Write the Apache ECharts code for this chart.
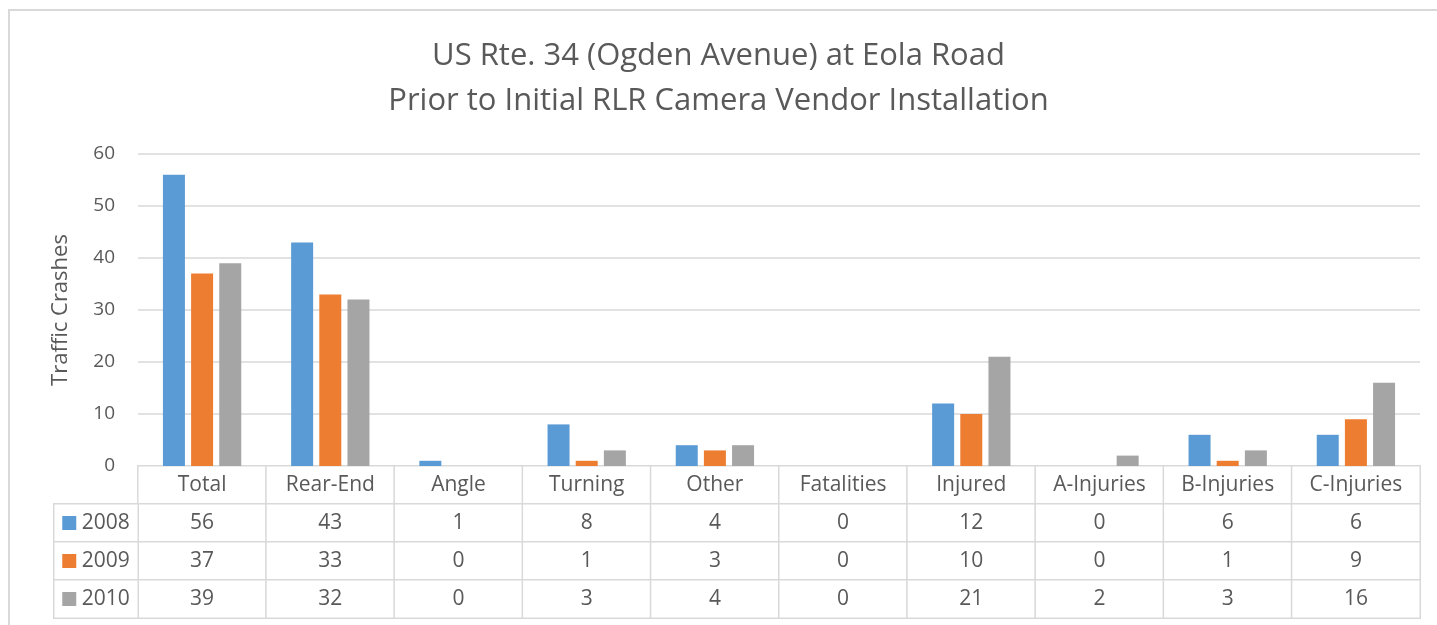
<!DOCTYPE html>
<html>
<head>
<meta charset="utf-8">
<script src="https://cdn.jsdelivr.net/npm/echarts@6/dist/echarts.min.js"></script>
<style>
  html, body { margin: 0; padding: 0; background: #fff; }
  #chart { width: 1437px; height: 625px; }
</style>
</head>
<body>
<div id="chart"></div>
<script>
const categories = ['Total', 'Rear-End', 'Angle', 'Turning', 'Other', 'Fatalities', 'Injured', 'A-Injuries', 'B-Injuries', 'C-Injuries']
const years = ['2008', '2009', '2010']
const crashes2008 = [56, 43, 1, 8, 4, 0, 12, 0, 6, 6]
const crashes2009 = [37, 33, 0, 1, 3, 0, 10, 0, 1, 9]
const crashes2010 = [39, 32, 0, 3, 4, 0, 21, 2, 3, 16]
const yTicks = [0, 10, 20, 30, 40, 50, 60]

const colors = ['#5b9bd5', '#ed7d31', '#a5a5a5']
const rows = [crashes2008, crashes2009, crashes2010]
const font = '"Open Sans", sans-serif'
const textColor = '#595959'
const lineColor = '#d9d9d9'

// table cells: header row (0) + one row per year
const tableCells = []
categories.forEach((c, i) => {
  tableCells.push([i, 0, 0])
  rows.forEach((r, k) => tableCells.push([i, k + 1, r[i]]))
})
const legendCells = years.map((y, k) => [0, k, k])

const chart = echarts.init(document.getElementById('chart'))
chart.setOption({
  animation: false,
  color: colors,
  textStyle: { fontFamily: font },
  title: {
    text: 'US Rte. 34 (Ogden Avenue) at Eola Road\nPrior to Initial RLR Camera Vendor Installation',
    left: 'center',
    top: 29,
    textStyle: { fontFamily: font, fontSize: 31, fontWeight: 'normal', color: textColor, lineHeight: 45 },
  },
  graphic: [{
    type: 'rect',
    shape: { x: 9, y: 10, width: 1500, height: 700 },
    style: { fill: 'none', stroke: lineColor, lineWidth: 2 },
    silent: true,
  }],
  visualMap: [
    { show: false, seriesIndex: [3, 4], min: 0, max: 100, inRange: { color: ['#fff', '#fff'] } },
  ],
  grid: [
    { left: 138, right: 17, top: 154, height: 312 },
    { left: 138, right: 17, top: 466, height: 152 },
    { left: 54, width: 84, top: 504, height: 114 },
  ],
  xAxis: [
    { gridIndex: 0, type: 'category', data: categories, axisLine: { show: false }, axisTick: { show: false }, axisLabel: { show: false } },
    { gridIndex: 1, type: 'category', data: categories, show: false },
    { gridIndex: 2, type: 'category', data: [''], show: false },
  ],
  yAxis: [
    {
      gridIndex: 0,
      type: 'value',
      min: yTicks[0],
      max: yTicks[yTicks.length - 1],
      interval: 10,
      name: 'Traffic Crashes',
      nameLocation: 'middle',
      nameGap: 66,
      nameTextStyle: { fontFamily: font, fontSize: 22, color: textColor },
      axisLine: { show: false },
      axisTick: { show: false },
      axisLabel: { fontFamily: font, fontSize: 19, color: textColor, margin: 23 },
      splitLine: { lineStyle: { color: lineColor, width: 1.5 } },
    },
    { gridIndex: 1, type: 'category', data: ['', ...years], inverse: true, show: false },
    { gridIndex: 2, type: 'category', data: years, inverse: true, show: false },
  ],
  series: [
    ...rows.map((r, k) => ({
      name: years[k],
      type: 'bar',
      xAxisIndex: 0,
      yAxisIndex: 0,
      data: r,
      barWidth: 22,
      barGap: '28%',
    })),
    {
      type: 'heatmap',
      xAxisIndex: 1,
      yAxisIndex: 1,
      data: tableCells,
      itemStyle: { borderColor: lineColor, borderWidth: 1.5 },
      label: {
        show: true,
        fontFamily: font,
        fontSize: 21,
        color: textColor,
        formatter: p => p.data[1] === 0 ? categories[p.data[0]] : String(p.data[2]),
      },
    },
    {
      type: 'heatmap',
      xAxisIndex: 2,
      yAxisIndex: 2,
      data: legendCells,
      itemStyle: { borderColor: lineColor, borderWidth: 1.5 },
      label: {
        show: true,
        fontFamily: font,
        fontSize: 21,
        color: textColor,
        formatter: p => '{s' + p.data[1] + '|}' + ' ' + years[p.data[1]],
        rich: {
          s0: { width: 14, height: 14, backgroundColor: colors[0] },
          s1: { width: 14, height: 14, backgroundColor: colors[1] },
          s2: { width: 14, height: 14, backgroundColor: colors[2] },
        },
      },
    },
  ],
})
</script>
</body>
</html>
